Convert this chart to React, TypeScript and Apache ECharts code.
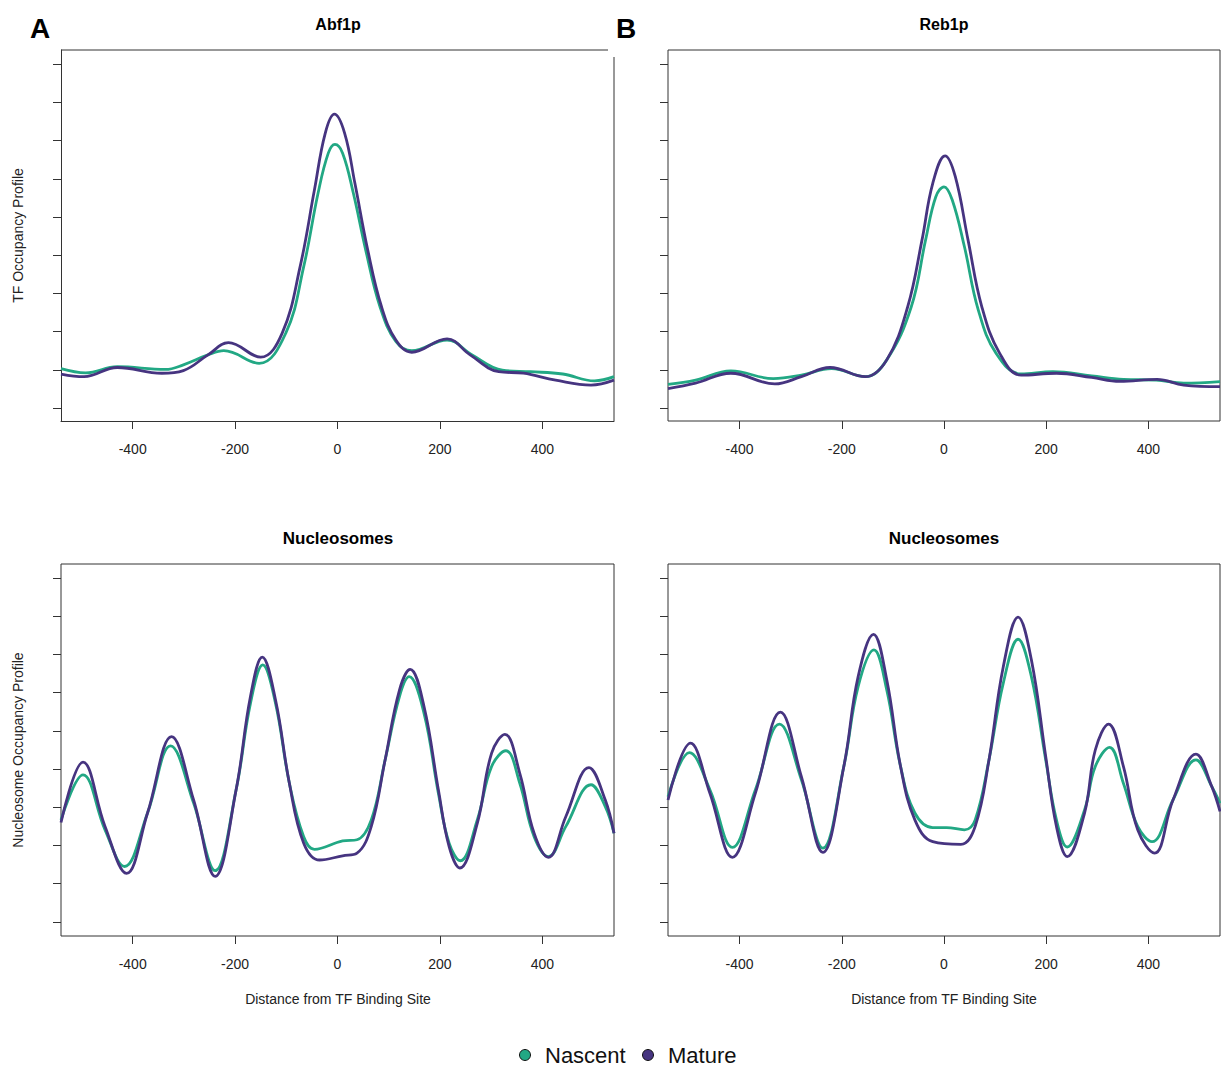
import React, { useEffect, useRef } from "react";
import * as echarts from "echarts";

const xTicks = [-400, -200, 0, 200, 400];
const yTicks = [0, 1, 2, 3, 4, 5, 6, 7, 8, 9];
const seriesNames = ["Nascent", "Mature"];
const panelTitles = ["Abf1p", "Reb1p", "Nucleosomes", "Nucleosomes"];
const panelLetters = ["A", "B"];
const yNames = ["TF Occupancy Profile", "Nucleosome Occupancy Profile"];
const xName = "Distance from TF Binding Site";

const nascentTfA = [[-540,1.03],[-492,0.92],[-430,1.08],[-336,1.01],[-301,1.13],[-253,1.39],[-222,1.5],[-153,1.17],[-101,1.96],[-66,3.7],[-38,5.62],[-18,6.67],[-5,6.9],[10,6.67],[31,5.62],[55,4.14],[83,2.65],[114,1.74],[145,1.5],[214,1.78],[263,1.39],[322,0.99],[377,0.95],[440,0.89],[502,0.71],[540,0.82]];
const matureTfA = [[-540,0.89],[-495,0.82],[-430,1.06],[-343,0.91],[-301,0.98],[-253,1.39],[-213,1.71],[-150,1.33],[-108,1.96],[-73,3.7],[-45,5.71],[-24,7.19],[-6,7.69],[14,7.19],[34,5.88],[59,4.14],[86,2.65],[114,1.78],[145,1.46],[214,1.81],[259,1.39],[315,0.95],[363,0.91],[426,0.73],[495,0.6],[540,0.73]];

const nascentTfB = [[-540,0.62],[-486,0.73],[-417,0.97],[-334,0.77],[-279,0.86],[-220,1.03],[-154,0.82],[-112,1.26],[-64,2.65],[-36,4.4],[-16,5.53],[0,5.79],[16,5.45],[40,4.22],[67,2.57],[102,1.43],[151,0.89],[213,0.95],[289,0.84],[351,0.75],[415,0.73],[469,0.65],[540,0.69]];
const matureTfB = [[-540,0.51],[-486,0.65],[-417,0.91],[-331,0.63],[-279,0.82],[-223,1.06],[-154,0.82],[-112,1.26],[-71,2.65],[-43,4.4],[-22,5.88],[2,6.6],[22,6.06],[47,4.4],[74,2.65],[109,1.43],[151,0.86],[220,0.91],[289,0.8],[344,0.7],[417,0.75],[469,0.6],[540,0.56]];

const nascentNucA = [[-540,2.67],[-497,3.85],[-454,2.41],[-416,1.45],[-371,2.85],[-326,4.61],[-281,3.11],[-239,1.34],[-198,3.46],[-170,5.72],[-146,6.73],[-121,5.72],[-94,3.63],[-66,2.23],[-45,1.9],[10,2.12],[38,2.15],[66,2.67],[93,4.24],[121,5.9],[140,6.42],[169,5.46],[197,3.37],[218,2.06],[240,1.6],[273,2.67],[301,4.07],[329,4.48],[356,3.63],[384,2.23],[412,1.71],[446,2.5],[495,3.59],[523,3.02],[540,2.32]];
const matureNucA = [[-540,2.6],[-497,4.18],[-454,2.5],[-412,1.27],[-371,2.85],[-324,4.85],[-281,3.19],[-239,1.19],[-198,3.46],[-170,5.9],[-147,6.93],[-121,5.81],[-94,3.63],[-66,2.06],[-35,1.62],[10,1.73],[38,1.8],[66,2.5],[93,4.24],[121,6.07],[142,6.61],[169,5.64],[197,3.46],[218,1.97],[239,1.41],[273,2.58],[301,4.42],[327,4.91],[356,3.89],[384,2.32],[412,1.69],[446,2.76],[491,4.04],[523,3.19],[540,2.32]];

const nascentNucB = [[-540,3.28],[-498,4.43],[-458,3.46],[-414,1.95],[-369,3.46],[-322,5.18],[-279,3.72],[-237,1.93],[-196,4.07],[-168,6.16],[-137,7.12],[-112,6.07],[-85,4.07],[-57,2.85],[-22,2.47],[5,2.47],[40,2.41],[61,2.67],[88,4.24],[116,6.25],[145,7.4],[171,6.42],[199,4.24],[220,2.67],[241,1.96],[275,2.93],[296,4.07],[324,4.57],[351,3.63],[379,2.5],[407,2.1],[448,3.19],[493,4.24],[524,3.54],[540,3.11]];
const matureNucB = [[-540,3.19],[-496,4.68],[-458,3.37],[-414,1.69],[-369,3.37],[-320,5.49],[-279,3.8],[-237,1.82],[-196,4.07],[-168,6.42],[-138,7.53],[-112,6.34],[-85,4.07],[-57,2.67],[-22,2.1],[33,2.03],[61,2.5],[88,4.24],[116,6.68],[145,7.98],[171,6.86],[199,4.33],[220,2.5],[241,1.71],[275,2.85],[296,4.5],[322,5.18],[351,4.07],[379,2.41],[412,1.8],[448,3.19],[493,4.39],[524,3.54],[540,2.89]];

const panelData = [
  [nascentTfA, matureTfA],
  [nascentTfB, matureTfB],
  [nascentNucA, matureNucA],
  [nascentNucB, matureNucB],
];

const COLORS = ["#22A884", "#463480"];
const FONT = "Liberation Sans, Arial, Helvetica, sans-serif";

export default function App() {
  const ref = useRef<HTMLDivElement>(null);
  useEffect(() => {
    const chart = echarts.init(ref.current!, null, { renderer: "svg" });
    const gridPos = [
      { left: 61, top: 50, width: 553, height: 371, ymin: -0.34, ymax: 9.37 },
      { left: 668, top: 50, width: 552, height: 371, ymin: -0.34, ymax: 9.37 },
      { left: 61, top: 564, width: 553, height: 372, ymin: -0.37, ymax: 9.37 },
      { left: 668, top: 564, width: 552, height: 372, ymin: -0.37, ymax: 9.37 },
    ];
    const grid = gridPos.map((g, i) => ({
      left: g.left,
      top: g.top,
      width: g.width,
      height: g.height,
      show: i !== 0,
      borderColor: "#333",
      borderWidth: 1,
      backgroundColor: "transparent",
    }));
    const xAxis = gridPos.map((g, i) => ({
      type: "value",
      gridIndex: i,
      position: "bottom",
      min: -540,
      max: 540,
      axisLine: { show: i === 0, onZero: false, lineStyle: { color: "#333" } },
      axisTick: { show: true, customValues: xTicks, length: 8, lineStyle: { color: "#333" } },
      axisLabel: { customValues: xTicks, fontSize: 14, color: "#222", margin: 21, fontFamily: FONT },
      splitLine: { show: false },
    }));
    const yAxis = gridPos.map((g, i) => ({
      type: "value",
      gridIndex: i,
      position: "left",
      min: g.ymin,
      max: g.ymax,
      axisLine: { show: i === 0, onZero: false, lineStyle: { color: "#333" } },
      axisTick: { show: true, customValues: yTicks, length: 8, lineStyle: { color: "#333" } },
      axisLabel: { show: false },
      splitLine: { show: false },
      name: i % 2 === 0 ? yNames[i / 2] : "",
      nameLocation: "middle",
      nameGap: 36,
      nameTextStyle: { fontSize: 14, color: "#222", fontFamily: FONT },
    }));
    const series: any[] = [];
    panelData.forEach((pair, i) => {
      pair.forEach((data, k) => {
        series.push({
          type: "line",
          name: seriesNames[k],
          xAxisIndex: i,
          yAxisIndex: i,
          data,
          smooth: 0.4,
          showSymbol: false,
          symbol: "none",
          lineStyle: { color: COLORS[k], width: 2.8 },
          itemStyle: { color: COLORS[k] },
          z: 2 + k,
        });
      });
    });
    const textStyle = (s: any) => ({ fontFamily: FONT, fill: "#000", textAlign: "center", textVerticalAlign: "middle", ...s });
    const legendText = (x: number, t: string) => ({
      type: "text",
      x,
      y: 1055,
      style: { text: t, fontFamily: FONT, fontSize: 22, lineHeight: 22, fill: "#111", textAlign: "left", textVerticalAlign: "middle" },
    });
    const graphic: any[] = [
      { type: "text", x: 40, y: 28, style: textStyle({ text: panelLetters[0], fontSize: 28, fontWeight: "bold" }) },
      { type: "text", x: 626, y: 28, style: textStyle({ text: panelLetters[1], fontSize: 28, fontWeight: "bold" }) },
      { type: "text", x: 338, y: 24, style: textStyle({ text: panelTitles[0], fontSize: 16, fontWeight: "bold" }) },
      { type: "text", x: 944, y: 24, style: textStyle({ text: panelTitles[1], fontSize: 16, fontWeight: "bold" }) },
      { type: "text", x: 338, y: 538, style: textStyle({ text: panelTitles[2], fontSize: 17, fontWeight: "bold" }) },
      { type: "text", x: 944, y: 538, style: textStyle({ text: panelTitles[3], fontSize: 17, fontWeight: "bold" }) },
      { type: "text", x: 338, y: 999, style: textStyle({ text: xName, fontSize: 14, fill: "#222" }) },
      { type: "text", x: 944, y: 999, style: textStyle({ text: xName, fontSize: 14, fill: "#222" }) },
      { type: "line", shape: { x1: 61, y1: 50, x2: 608, y2: 50 }, style: { stroke: "#333", lineWidth: 1 } },
      { type: "line", shape: { x1: 614, y1: 57, x2: 614, y2: 421 }, style: { stroke: "#333", lineWidth: 1 } },
      // legend
      { type: "circle", shape: { cx: 525, cy: 1055, r: 5.5 }, style: { fill: COLORS[0], stroke: "#111", lineWidth: 1 } },
      legendText(545, seriesNames[0]),
      { type: "circle", shape: { cx: 648, cy: 1055, r: 5.5 }, style: { fill: COLORS[1], stroke: "#111", lineWidth: 1 } },
      legendText(668, seriesNames[1]),
    ];
    chart.setOption({
      animation: false,
      backgroundColor: "#fff",
      grid,
      xAxis,
      yAxis,
      series,
      graphic,
    });
    return () => chart.dispose();
  }, []);
  return (
    <div
      ref={ref}
      style={{ position: "fixed", left: 0, top: 0, width: 1221, height: 1067, background: "#fff" }}
    />
  );
}
